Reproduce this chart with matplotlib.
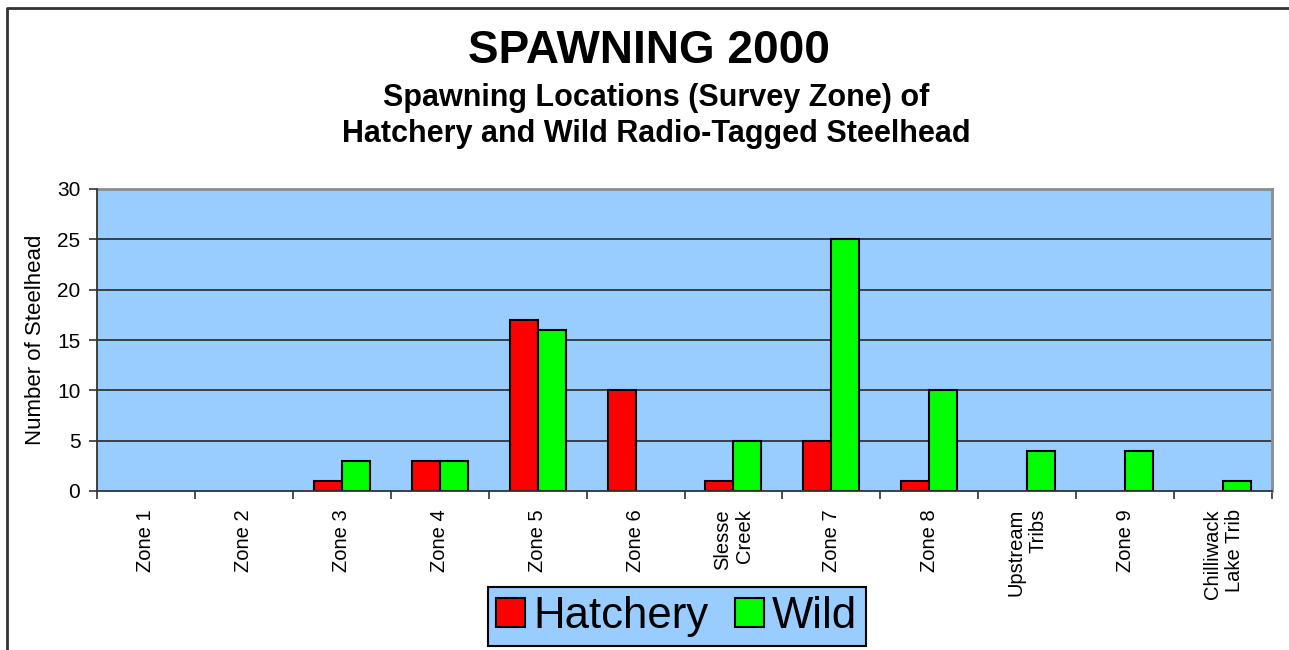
import matplotlib
matplotlib.use("Agg")
import matplotlib.pyplot as plt
from matplotlib.lines import Line2D
from matplotlib.patches import Patch
from matplotlib.transforms import blended_transform_factory
import numpy as np

plt.rcParams['font.family'] = ['Liberation Sans', 'DejaVu Sans']

categories = ["Zone 1", "Zone 2", "Zone 3", "Zone 4", "Zone 5", "Zone 6",
              "Slesse\nCreek", "Zone 7", "Zone 8", "Upstream\nTribs", "Zone 9",
              "Chilliwack\nLake Trib"]
hatchery = [0, 0, 1, 3, 17, 10, 1, 5, 1, 0, 0, 0]
wild = [0, 0, 3, 3, 16, 0, 5, 25, 10, 4, 4, 1]
yticks = [0, 5, 10, 15, 20, 25, 30]

W, H = 1289, 650
fig = plt.figure(figsize=(W / 100, H / 100), dpi=100)
fig.patch.set_facecolor('white')

# figure border (left and top visible)
fig.add_artist(Line2D([7 / W, 7 / W, 1.0], [0.0, 1 - 8 / H, 1 - 8 / H],
                      transform=fig.transFigure, color='#333333', lw=2))

left, right, top, bottom = 97, 1272, 189, 491
ax = fig.add_axes([left / W, 1 - bottom / H, (right - left) / W, (bottom - top) / H])
ax.set_facecolor('#99CCFF')

x = np.arange(len(categories))
bw = 0.286
h_arr = np.array(hatchery, dtype=float)
w_arr = np.array(wild, dtype=float)
mh = h_arr > 0
mw = w_arr > 0
ax.bar(x[mh] - bw / 2, h_arr[mh], bw, color='#FF0000', edgecolor='black', linewidth=1.5, zorder=3)
ax.bar(x[mw] + bw / 2, w_arr[mw], bw, color='#00FF00', edgecolor='black', linewidth=1.5, zorder=3)

ax.set_xlim(-0.5, len(categories) - 0.5)
ax.set_ylim(0, 30)
ax.set_yticks(yticks)
for yv in yticks[1:-1]:
    ax.axhline(yv, color='#1a1a1a', lw=1.1, zorder=1)

ax.set_xticks(x)
ax.set_xticklabels(categories, rotation=90, fontsize=14.5, va='top', ha='center',
                   multialignment='right')
ax.tick_params(axis='x', which='major', length=0, pad=13)
ax.set_xticks(np.arange(len(categories) + 1) - 0.5, minor=True)
ax.tick_params(axis='x', which='minor', length=6, width=1.2, color='#333333', direction='out')
ax.tick_params(axis='y', length=6, width=1.2, color='#333333', labelsize=15, pad=6)

for s in ['top', 'right']:
    ax.spines[s].set_color('#8c8c8c')
    ax.spines[s].set_linewidth(2)
for s in ['left', 'bottom']:
    ax.spines[s].set_color('#333333')
    ax.spines[s].set_linewidth(1.3)
ax.spines['left'].set_zorder(4)
ax.spines['bottom'].set_zorder(4)

ax.set_ylabel("Number of Steelhead", fontsize=16)
ax.yaxis.set_label_coords(46 / W, 0.5,
                          transform=blended_transform_factory(fig.transFigure, ax.transAxes))

fig.text(0.5035, 1 - 51 / H, "SPAWNING 2000", ha='center', va='center',
         fontsize=33, fontweight='bold')
fig.text(0.509, 1 - 98 / H, "Spawning Locations (Survey Zone) of", ha='center', va='center',
         fontsize=22, fontweight='bold')
fig.text(0.509, 1 - 134 / H, "Hatchery and Wild Radio-Tagged Steelhead", ha='center', va='center',
         fontsize=22, fontweight='bold')

handles = [Patch(facecolor='#FF0000', edgecolor='black', linewidth=1.5, label='Hatchery'),
           Patch(facecolor='#00FF00', edgecolor='black', linewidth=1.5, label='Wild')]
leg = fig.legend(handles=handles, loc='center', bbox_to_anchor=(677 / W, 1 - 616.5 / H),
                 ncol=2, fontsize=31.5, frameon=True, fancybox=False,
                 handlelength=0.65, handleheight=0.65, handletextpad=0.2,
                 columnspacing=0.6, borderpad=0.2, borderaxespad=0)
frame = leg.get_frame()
frame.set_facecolor('#99CCFF')
frame.set_edgecolor('black')
frame.set_linewidth(1.5)
frame.set_alpha(1)

fig.savefig("out.png", dpi=100)
